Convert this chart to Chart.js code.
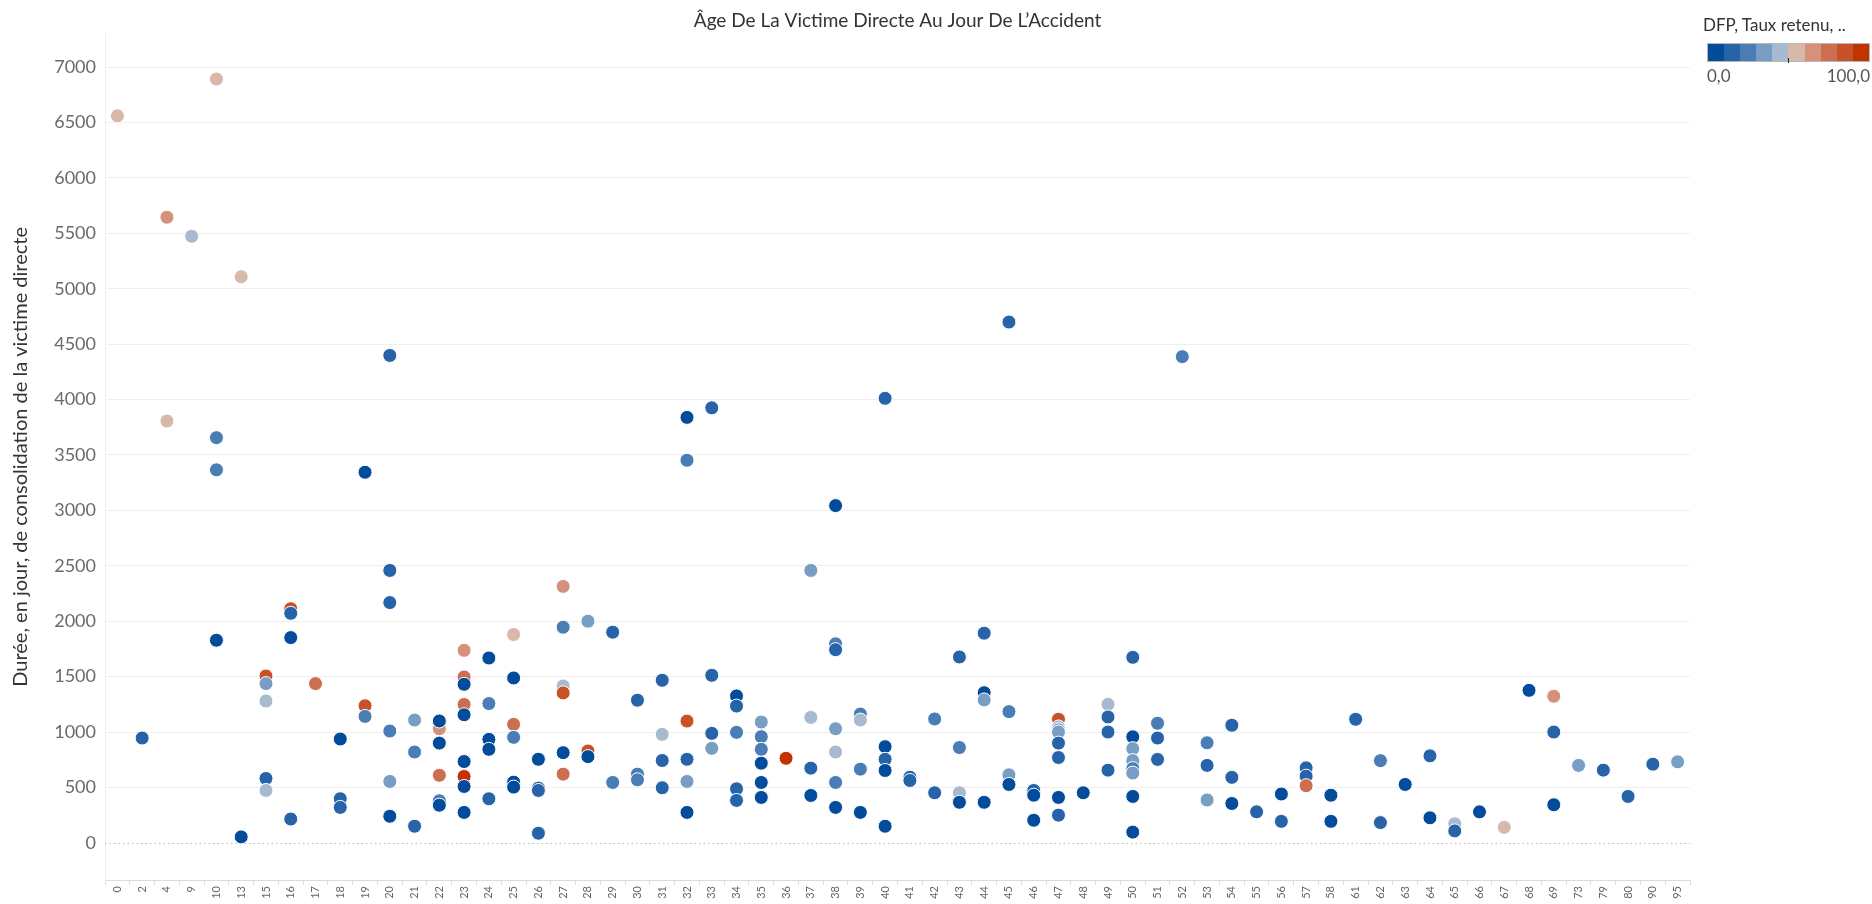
<!DOCTYPE html>
<html><head><meta charset="utf-8">
<script src="https://cdn.jsdelivr.net/npm/chart.js@4.4.1/dist/chart.umd.min.js"></script>
<style>
html,body{margin:0;padding:0;background:#fff;}
#wrap{position:relative;width:1872px;height:904px;overflow:hidden;}
#c{position:absolute;left:0;top:0;}
.lg{position:absolute;font-family:Lato,"Open Sans",sans-serif;white-space:nowrap;}
#lgTitle{left:1703px;top:15px;font-size:17px;line-height:20px;color:#333;}
#lgBar{left:1707px;top:43px;width:163px;height:19px;border:1px solid #b5b5b5;box-sizing:border-box;display:flex;}
#lgBar span{flex:1;height:100%;}
#lgTick{left:1788px;top:58px;width:1px;height:5px;background:#222;}
#lgMin{left:1707px;top:66px;font-size:17px;line-height:20px;color:#555;}
#lgMax{right:2px;top:66px;font-size:17px;line-height:20px;color:#555;}
</style></head><body>
<div id="wrap">
<canvas id="c" width="1872" height="904"></canvas>
<div class="lg" id="lgTitle">DFP, Taux retenu, ..</div>
<div class="lg" id="lgBar"></div>
<div class="lg" id="lgTick"></div>
<div class="lg" id="lgMin">0,0</div>
<div class="lg" id="lgMax">100,0</div>
</div>
<script>
// ---- DATA ----
const categories = ['0','2','4','9','10','13','15','16','17','18','19','20','21','22','23','24','25','26','27','28','29','30','31','32','33','34','35','36','37','38','39','40','41','42','43','44','45','46','47','48','49','50','51','52','53','54','55','56','57','58','61','62','63','64','65','66','67','68','69','73','79','80','90','95'];

// Durée (jours) per age category
const durations = [
 [6560],[946],[5645,3806],[5473],[6892,3656,3366,1828],[5108,54],
 [1506,1437,1280,581,473],[2113,2071,1852,215],[1437],[937,398,320],
 [3344,1237,1141],[4398,2458,2168,1009,554,240],[1108,820,150],
 [1070,1030,1100,900,610,380,340],[1737,1497,1431,1249,1156,734,599,509,275],
 [1668,1257,934,844,398],[1880,1488,1069,952,548,503],[754,494,473,87],
 [2314,1946,1416,1353,814,620],[2000,829,778],[1901,545],[1287,620,569],
 [1467,979,743,497],[3839,3452,1099,754,554,275],[3925,1512,988,853],
 [1326,1234,997,488,383],[1090,958,844,719,545,410],[763],[2458,1132,674,428],
 [3043,1796,1743,1030,820,545,320],[1162,1108,665,275],[4011,868,754,653,150],
 [593,563],[1118,452],[1677,860,452,366],[1892,1355,1290,366],[4699,1184,614,527],
 [473,430,204],[1115,1046,1020,1000,900,770,410,250],[452],[1250,1136,1000,656],
 [1674,957,850,742,670,630,419,97],[1079,946,753],[4387],[903,699,387],
 [1061,591,355],[280],[441,194],[677,602,516],[430,194],[1115],[742,183],[527],
 [785,226],[172,108],[280],[140],[1376],[1323,1000,344],[699],[656],[419],[710],[731]
];

// DFP taux retenu (%) per point, same layout
const dfpValues = [
 [55],[15],[65,55],[45],[55,25,25,5],[55,5],
 [85,35,45,15,45],[85,15,5,15],[75],[5,15,15],
 [5,85,25],[15,15,15,25,35,5],[35,25,15],
 [85,65,5,5,75,25,5],[65,75,5,75,5,5,95,5,5],
 [5,25,5,5,15],[55,5,75,25,5,5],[5,15,15,15],
 [65,25,45,85,5,75],[35,85,5],[15,25],[15,25,25],
 [15,45,15,15],[5,25,85,15,35,5],[15,15,15,35],
 [5,15,25,15,15],[35,25,25,5,5,5],[95],[35,45,15,5],
 [5,25,15,35,45,25,5],[25,45,25,5],[15,5,15,5,5],
 [15,15],[25,15],[15,25,45,5],[15,5,35,5],[15,25,35,5],
 [15,5,5],[85,45,35,35,15,15,5,15],[5],[45,15,15,15],
 [15,5,35,35,25,35,5,5],[25,15,15],[25],[25,15,35],
 [15,15,5],[15],[5,15],[15,15,75],[5,5],[15],[25,15],[5],
 [15,5],[45,15],[5],[55],[5],[65,15,5],[35],[15],[15],[15],[35]
];

const yTickValues = [0,500,1000,1500,2000,2500,3000,3500,4000,4500,5000,5500,6000,6500,7000];
const dfpRange = [0, 100];

// ---- STYLE ----
const palette = ['#034b9b','#2763a9','#4a7db6','#789ec4','#a8bacf','#d8b8ab','#d5917b','#cc6e50','#c75128','#c23300'];
function colorFor(v){
  const t = (v - dfpRange[0]) / (dfpRange[1] - dfpRange[0]);
  return palette[Math.max(0, Math.min(palette.length - 1, Math.floor(t * palette.length)))];
}
const bar = document.getElementById('lgBar');
palette.forEach(c => { const s = document.createElement('span'); s.style.background = c; bar.appendChild(s); });

const points = [];
categories.forEach((cat, i) => {
  durations[i].forEach((d, j) => points.push({x: cat, y: d, dfp: dfpValues[i][j]}));
});

const zeroLine = {
  id: 'zeroLine',
  beforeDatasetsDraw(chart){
    const y = chart.scales.y.getPixelForValue(0);
    const a = chart.chartArea, ctx = chart.ctx;
    ctx.save();
    ctx.strokeStyle = '#b8b8b8';
    ctx.lineWidth = 1;
    ctx.setLineDash([1.5, 3]);
    ctx.beginPath();
    ctx.moveTo(a.left, Math.round(y) + 0.5);
    ctx.lineTo(a.right, Math.round(y) + 0.5);
    ctx.stroke();
    ctx.restore();
  }
};

const FONT = 'Lato, "Open Sans", sans-serif';

new Chart(document.getElementById('c'), {
  type: 'scatter',
  data: {
    labels: categories,
    datasets: [{
      data: points,
      pointRadius: 7,
      pointHoverRadius: 7,
      pointBorderColor: '#ffffff',
      pointBorderWidth: 1,
      pointBackgroundColor: ctx => colorFor(ctx.raw ? ctx.raw.dfp : 0)
    }]
  },
  options: {
    responsive: false,
    animation: false,
    devicePixelRatio: 1,
    layout: {padding: {left: 0, right: 182, top: 0, bottom: 0}},
    plugins: {
      legend: {display: false},
      tooltip: {enabled: false},
      title: {
        display: true,
        fullSize: false,
        text: 'Âge De La Victime Directe Au Jour De L’Accident',
        color: '#333',
        font: {family: FONT, size: 19, weight: 'normal'},
        padding: {top: 9, bottom: 2}
      }
    },
    scales: {
      x: {
        type: 'category',
        labels: categories,
        offset: true,
        grid: {offset: true, drawOnChartArea: false, tickLength: 5, color: '#dcdcdc'},
        border: {color: '#dcdcdc'},
        ticks: {autoSkip: false, maxRotation: 90, minRotation: 90, padding: 1,
                color: '#666', font: {family: FONT, size: 11}},
        afterFit: s => { s.height = 24; }
      },
      y: {
        min: -335,
        max: 7300,
        ticks: {padding: 9, color: '#6a6a6a', font: {family: FONT, size: 18},
                callback: v => String(v)},
        afterBuildTicks: s => { s.ticks = yTickValues.map(v => ({value: v})); },
        grid: {drawTicks: false, color: c => (c.tick && c.tick.value === 0) ? 'rgba(0,0,0,0)' : '#efefef'},
        border: {color: '#efefef'},
        title: {display: true, text: 'Durée, en jour, de consolidation de la victime directe',
                color: '#333', font: {family: FONT, size: 20}, padding: {top: 9, bottom: 0}},
        afterFit: s => { s.width = 105; }
      }
    }
  },
  plugins: [zeroLine]
});
</script>
</body></html>
